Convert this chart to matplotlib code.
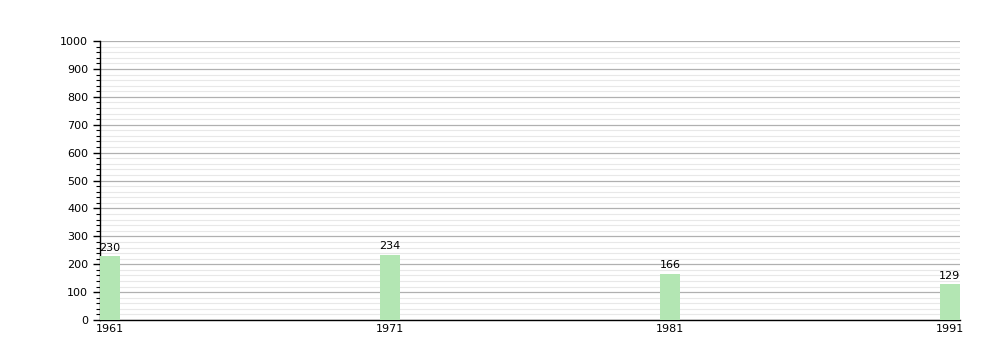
import numpy as np
import matplotlib.pyplot as plt
from matplotlib.ticker import MultipleLocator

years = [1961, 1971, 1981, 1991]
values = [230, 234, 166, 129]

bar_w = 0.72

fig = plt.figure(figsize=(10, 3.6), dpi=100)
ax = fig.add_axes([0.1, 0.111, 0.86, 0.775])

ax.bar(years, values, width=bar_w, align='edge', color='#b3e6b3', zorder=3)
for x, v in zip(years, values):
    ax.text(x + bar_w / 2, v + 12, str(v), ha='center', va='bottom', fontsize=8)

ax.set_xlim(1961, 1991 + bar_w)
ax.set_ylim(0, 1000)
ax.set_xticks([y + bar_w / 2 for y in years])
ax.set_xticklabels([str(y) for y in years], fontsize=8)
ax.tick_params(axis='x', length=0, pad=3)

ax.yaxis.set_major_locator(MultipleLocator(100))
ax.yaxis.set_minor_locator(MultipleLocator(20))
ax.tick_params(axis='y', which='major', length=5, labelsize=8, width=1)
ax.tick_params(axis='y', which='minor', length=3, width=0.8)
ax.grid(axis='y', which='major', color='#b0b0b0', linewidth=0.9, zorder=0)
ax.grid(axis='y', which='minor', color='#e8e8e8', linewidth=0.8, zorder=0)

for s in ['top', 'right']:
    ax.spines[s].set_visible(False)
ax.spines['left'].set_linewidth(1)
ax.spines['bottom'].set_linewidth(1)

fig.savefig('out.png', dpi=100)
